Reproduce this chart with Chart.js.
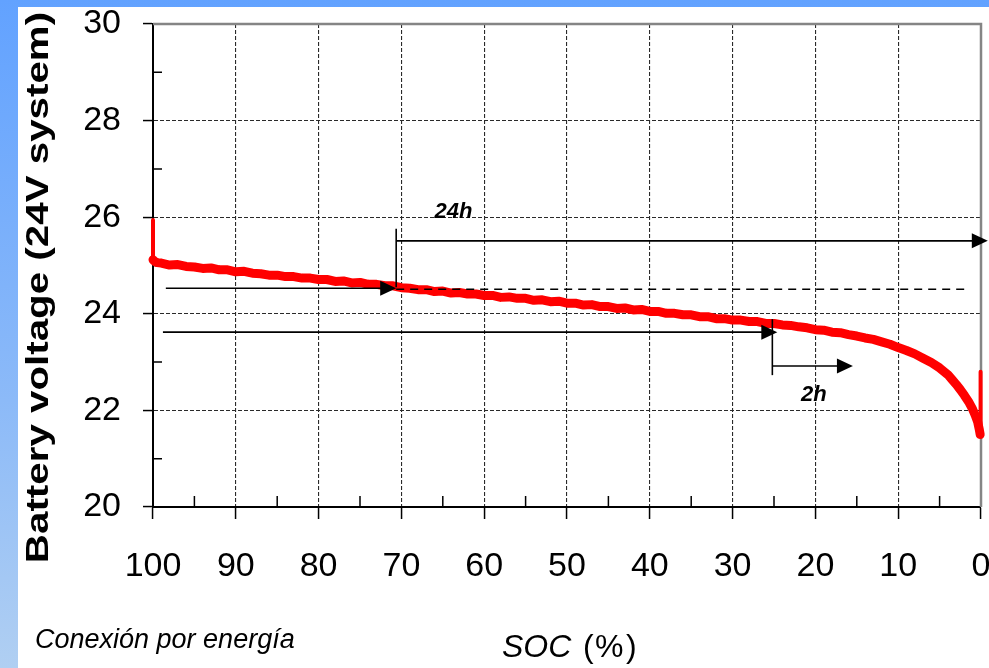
<!DOCTYPE html>
<html><head><meta charset="utf-8">
<script src="https://cdn.jsdelivr.net/npm/chart.js@4.4.1/dist/chart.umd.min.js"></script>
<style>
html,body{margin:0;padding:0;}
#bg{position:relative;width:989px;height:668px;overflow:hidden;background:linear-gradient(to bottom,#62a2ff 0%,#8cbaf8 60%,#b0cff2 100%);}
#panel{position:absolute;left:18px;top:7px;width:971px;height:661px;background:#fff;}
canvas{display:block;}
</style></head><body>
<div id="bg"><div id="panel"><canvas id="c" width="971" height="661"></canvas></div></div>
<script>
// ---- data ----
// main discharge curve
const soc = [100,99.85,99.5,99,98,97,96,95,94,93,92,91,90,89,88,87,86,85,84,83,82,81,80,79,78,77,76,75,74,73,72,71,70,69,68,67,66,65,64,63,62,61,60,59,58,57,56,55,54,53,52,51,50,49,48,47,46,45,44,43,42,41,40,39,38,37,36,35,34,33,32,31,30,29,28,27,26,25,24,23,22,21,20,19,18,17,16,15,14,13,12,11,10,9,8,7,6,5,4,3.5,3,2.5,2,1.5,1,0.7,0.4,0.2,0.1];
const voltage = [25.12,25.09,25.06,25.05,25.01,25.02,24.98,24.97,24.94,24.95,24.91,24.91,24.87,24.88,24.84,24.83,24.80,24.80,24.77,24.77,24.74,24.74,24.71,24.71,24.67,24.68,24.64,24.65,24.61,24.61,24.58,24.58,24.54,24.53,24.50,24.50,24.46,24.47,24.43,24.44,24.41,24.41,24.38,24.38,24.34,24.35,24.32,24.32,24.28,24.29,24.25,24.26,24.22,24.22,24.18,24.19,24.15,24.15,24.11,24.12,24.08,24.09,24.05,24.05,24.01,24.01,23.98,23.98,23.94,23.94,23.90,23.90,23.87,23.87,23.84,23.84,23.80,23.80,23.77,23.76,23.73,23.71,23.67,23.66,23.62,23.61,23.57,23.54,23.50,23.47,23.42,23.37,23.30,23.24,23.17,23.08,22.99,22.88,22.74,22.64,22.54,22.43,22.31,22.18,22.02,21.90,21.76,21.60,21.50];
// thin start spike (full-charge) and end recovery spike
const startSoc = [100,100];
const startVoltage = [25.94,25.10];
const endSoc = [0.1,0.05,0.05];
const endVoltage = [21.50,21.62,22.80];
const xMajorTicks = [100,90,80,70,60,50,40,30,20,10,0];
const xMinorTicks = [95,85,75,65,55,45,35,25,15,5];
const yMajorTicks = [20,22,24,26,28,30];
const yMinorTicks = [21,23,25,27,29];
const yTitle = 'Battery voltage (24V system)';
const xTitle = 'SOC';
const xTitleUnit = ['(', '%', ')'];
const caption = 'Conexión por energía';
// annotation geometry in data units (SOC %, volts)
const marks = {
  v1: {soc:70.63, v0:25.76, v1:24.55},
  line24: {v:25.51, from:70.63, to:-0.82},
  arrowA: {v:24.53, from:98.45, to:70.63},
  dashed: {v:24.51, from:70.63, to:1.45},
  arrowB: {v:23.62, from:98.8, to:24.6},
  v2: {soc:25.2, v0:23.89, v1:22.73},
  arrowC: {v:22.92, from:25.2, to:15.47},
  label24: {soc:63.7, v:26.11, text:'24h'},
  label2: {soc:20.2, v:22.36, text:'2h'}
};

const toPts = (xs, ys) => xs.map((s,i)=>({x:s, y:ys[i]}));
const FONT = "'Liberation Sans', Arial, sans-serif";

function arrowHead(ctx, x, y){
  ctx.beginPath();
  ctx.moveTo(x, y);
  ctx.lineTo(x-16, y-7.5);
  ctx.lineTo(x-16, y+7.5);
  ctx.closePath();
  ctx.fill();
}

const overlay = {
  id:'overlay',
  beforeDatasetsDraw(chart){
    const {ctx, chartArea:a, scales:{x,y}} = chart;
    ctx.save();
    ctx.setLineDash([]);
    ctx.strokeStyle = '#858585'; ctx.lineWidth = 2.5;
    ctx.beginPath(); ctx.moveTo(a.left, a.top); ctx.lineTo(a.right, a.top); ctx.lineTo(a.right, a.bottom); ctx.stroke();
    ctx.strokeStyle = '#000'; ctx.lineWidth = 1.5;
    ctx.beginPath();
    xMinorTicks.forEach(v=>{ const px = x.getPixelForValue(v); ctx.moveTo(px, a.bottom); ctx.lineTo(px, a.bottom-11); });
    yMinorTicks.forEach(v=>{ const py = y.getPixelForValue(v); ctx.moveTo(a.left, py); ctx.lineTo(a.left+9, py); });
    ctx.stroke();
    ctx.restore();
  },
  afterDatasetsDraw(chart){
    const {ctx, scales:{x,y}} = chart;
    const X = v=>x.getPixelForValue(v), Y = v=>y.getPixelForValue(v);
    ctx.save();
    ctx.strokeStyle = '#000'; ctx.fillStyle = '#000'; ctx.lineWidth = 1.6; ctx.setLineDash([]);
    const vline = m=>{ ctx.beginPath(); ctx.moveTo(X(m.soc), Y(m.v0)); ctx.lineTo(X(m.soc), Y(m.v1)); ctx.stroke(); };
    const hline = (m, head)=>{ const x0=X(m.from), x1=X(m.to), yy=Y(m.v); ctx.beginPath(); ctx.moveTo(x0,yy); ctx.lineTo(head? x1-10 : x1, yy); ctx.stroke(); if(head) arrowHead(ctx, x1, yy); };
    vline(marks.v1); vline(marks.v2);
    hline(marks.line24, true);
    hline(marks.arrowA, true);
    hline(marks.arrowB, true);
    hline(marks.arrowC, true);
    ctx.setLineDash([8,6]); ctx.lineWidth = 1.5;
    hline(marks.dashed, false);
    ctx.setLineDash([]);
    ctx.font = "italic bold 22px " + FONT; ctx.textAlign = 'center'; ctx.textBaseline = 'middle';
    ctx.fillText(marks.label24.text, X(marks.label24.soc), Y(marks.label24.v));
    ctx.fillText(marks.label2.text, X(marks.label2.soc), Y(marks.label2.v)+2);
    ctx.restore();
  },
  afterDraw(chart){
    const {ctx} = chart;
    ctx.save();
    ctx.fillStyle = '#000';
    // y axis title (stretched along its length like the reference)
    ctx.save();
    ctx.translate(30, 280.5);
    ctx.rotate(-Math.PI/2);
    ctx.scale(1.26, 1);
    ctx.font = "bold 32px " + FONT; ctx.textAlign = 'center'; ctx.textBaseline = 'alphabetic';
    ctx.fillText(yTitle, 0, 0);
    ctx.restore();
    // x axis title
    ctx.textAlign = 'left'; ctx.textBaseline = 'alphabetic';
    ctx.font = "italic 32px " + FONT;
    ctx.fillText(xTitle, 484, 650);
    ctx.font = "32px " + FONT;
    ctx.fillText(xTitleUnit[0], 565, 650);
    ctx.fillText(xTitleUnit[1], 577, 650);
    ctx.fillText(xTitleUnit[2], 608, 650);
    // caption
    ctx.font = "italic 27px " + FONT;
    ctx.fillText(caption, 17, 641);
    ctx.restore();
  }
};

const isMajorX = v => xMajorTicks.includes(v);
const isMajorY = v => yMajorTicks.includes(v);
const noPad = s=>{ s.paddingTop = 0; s.paddingBottom = 0; s.paddingLeft = 0; s.paddingRight = 0; };
const lineDs = (pts, w) => ({ data:pts, borderColor:'#ff0000', borderWidth:w, pointRadius:0, tension:0, borderJoinStyle:'round', borderCapStyle:'round', clip:false });

new Chart(document.getElementById('c'), {
  type:'line',
  data:{ datasets:[ lineDs(toPts(soc, voltage), 9), lineDs(toPts(startSoc, startVoltage), 4), lineDs(toPts(endSoc, endVoltage), 4) ] },
  options:{
    responsive:false, animation:false,
    layout:{ padding:{ left:0, right:8, top:17, bottom:0 } },
    plugins:{ legend:{display:false}, tooltip:{enabled:false} },
    scales:{
      x:{
        type:'linear', min:0, max:100, reverse:true,
        afterBuildTicks: s=>{ s.ticks = xMajorTicks.concat(xMinorTicks).sort((a,b)=>b-a).map(v=>({value:v})); },
        afterFit: s=>{ s.height = 161; noPad(s); },
        ticks:{ autoSkip:false, maxRotation:0, color:'#000', padding:27, font:{family:FONT, size:34},
          callback: v=> isMajorX(v) ? String(v) : '' },
        grid:{ color: c=> (c.tick && isMajorX(c.tick.value)) ? '#2a2a2a' : 'rgba(0,0,0,0)', lineWidth:1.1,
          tickColor: c=> (c.tick && isMajorX(c.tick.value)) ? '#000' : 'rgba(0,0,0,0)', tickLength:12, tickWidth:1.5, tickBorderDash:[] },
        border:{ display:true, color:'#000', width:2, dash:[4,2] }
      },
      y:{
        type:'linear', min:20, max:30,
        afterBuildTicks: s=>{ s.ticks = yMajorTicks.concat(yMinorTicks).sort((a,b)=>a-b).map(v=>({value:v})); },
        afterFit: s=>{ s.width = 135; noPad(s); },
        ticks:{ autoSkip:false, color:'#000', padding:22, font:{family:FONT, size:34},
          callback: v=> isMajorY(v) ? String(v) : '' },
        grid:{ color: c=> (c.tick && isMajorY(c.tick.value)) ? '#2a2a2a' : 'rgba(0,0,0,0)', lineWidth:1.1,
          tickColor: c=> (c.tick && isMajorY(c.tick.value)) ? '#000' : 'rgba(0,0,0,0)', tickLength:10, tickWidth:1.5, tickBorderDash:[] },
        border:{ display:true, color:'#000', width:2, dash:[4,2] }
      }
    }
  },
  plugins:[overlay]
});
</script>
</body></html>
